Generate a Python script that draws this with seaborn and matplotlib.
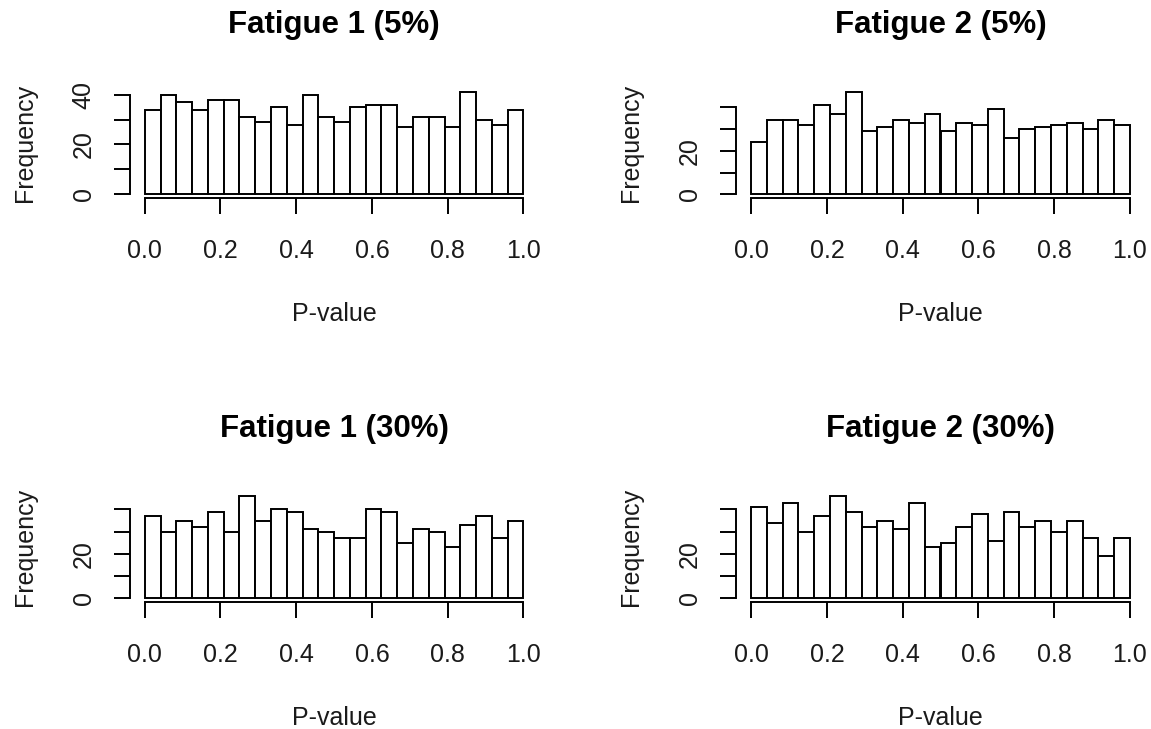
import numpy as np
import pandas as pd
import matplotlib
matplotlib.use("Agg")
import matplotlib.pyplot as plt
import seaborn as sns

# Histogram counts of p-values, 24 equal bins on [0, 1]
fatigue1_5 = [34, 40, 37, 34, 38, 38, 31, 29, 35, 28, 40, 31,
              29, 35, 36, 36, 27, 31, 31, 27, 41, 30, 28, 34]
fatigue2_5 = [24, 34, 34, 32, 41, 37, 47, 29, 31, 34, 33, 37,
              29, 33, 32, 39, 26, 30, 31, 32, 33, 30, 34, 32]
fatigue1_30 = [37, 30, 35, 32, 39, 30, 46, 35, 40, 39, 31, 30,
               27, 27, 40, 39, 25, 31, 30, 23, 33, 37, 27, 35]
fatigue2_30 = [41, 34, 43, 30, 37, 46, 39, 32, 35, 31, 43, 23,
               25, 32, 38, 26, 39, 32, 35, 30, 35, 27, 19, 27]

titles = ["Fatigue 1 (5%)", "Fatigue 2 (5%)", "Fatigue 1 (30%)", "Fatigue 2 (30%)"]
x_ticks = [0.0, 0.2, 0.4, 0.6, 0.8, 1.0]
y_ticks = [0, 10, 20, 30, 40]
y_labels_first = ["0", "", "20", "", "40"]
y_labels_other = ["0", "", "20", "", ""]

sns.set_theme(style="white")
plt.rcParams["font.family"] = ["Liberation Sans", "DejaVu Sans"]

W, H = 1151, 729
fig = plt.figure(figsize=(W / 100, H / 100), dpi=100)

n_bins = 24
centers = (np.arange(n_bins) + 0.5) / n_bins

lw = 1.4
px = 0.72  # points per pixel at 100 dpi

col_left = [129.6, 736.0]
row_bottom = [198.4, 602.4]
ax_w, ax_h = 409.0, 110.4

series = [fatigue1_5, fatigue2_5, fatigue1_30, fatigue2_30]
for i, (counts, title) in enumerate(zip(series, titles)):
    r, c = divmod(i, 2)
    ax = fig.add_axes([col_left[c] / W, 1 - row_bottom[r] / H, ax_w / W, ax_h / H])
    df = pd.DataFrame({"p": centers, "n": counts})
    sns.histplot(data=df, x="p", weights="n", bins=n_bins, binrange=(0, 1),
                 ax=ax, color="white", edgecolor="black", linewidth=lw,
                 alpha=1, fill=True, legend=False)
    m = max(counts)
    ax.set_xlim(-0.04, 1.04)
    ax.set_ylim(-0.04 * m, 1.04 * m)
    ax.set_xlabel("")
    ax.set_ylabel("")
    ax.set_facecolor("white")
    for s in ["top", "right"]:
        ax.spines[s].set_visible(False)
    for s in ["left", "bottom"]:
        ax.spines[s].set_visible(True)
        ax.spines[s].set_color("black")
        ax.spines[s].set_linewidth(lw)
    ax.spines["left"].set_bounds(0, 40)
    ax.spines["bottom"].set_bounds(0, 1)

    ax.set_xticks(x_ticks)
    ax.set_xticklabels([f"{t:.1f}" for t in x_ticks])
    ax.set_yticks(y_ticks)
    ax.set_yticklabels(y_labels_first if i == 0 else y_labels_other)
    ax.tick_params(axis="both", which="major", direction="out",
                   length=16 * px, width=lw, color="black",
                   labelsize=18, labelcolor="#1a1a1a",
                   bottom=True, left=True)
    ax.tick_params(axis="x", pad=18)
    ax.tick_params(axis="y", pad=13, labelrotation=90)
    for lab in ax.get_yticklabels():
        lab.set_va("center")

    ax.annotate(title, xy=(0.5, 1), xycoords="axes fraction",
                xytext=(0, 54.8 * px), textcoords="offset points",
                ha="center", va="baseline", fontsize=22.5,
                fontweight="bold", color="black")
    ax.annotate("P-value", xy=(0.5, 0), xycoords="axes fraction",
                xytext=(0, -122.6 * px), textcoords="offset points",
                ha="center", va="baseline", fontsize=18, color="#1a1a1a")
    ax.annotate("Frequency", xy=(0, 0.5), xycoords="axes fraction",
                xytext=(-(col_left[0] - 32) * px, 0), textcoords="offset points",
                ha="center", va="baseline", rotation=90,
                rotation_mode="anchor", fontsize=18, color="#1a1a1a")

fig.savefig("out.png", dpi=100, facecolor="white")
